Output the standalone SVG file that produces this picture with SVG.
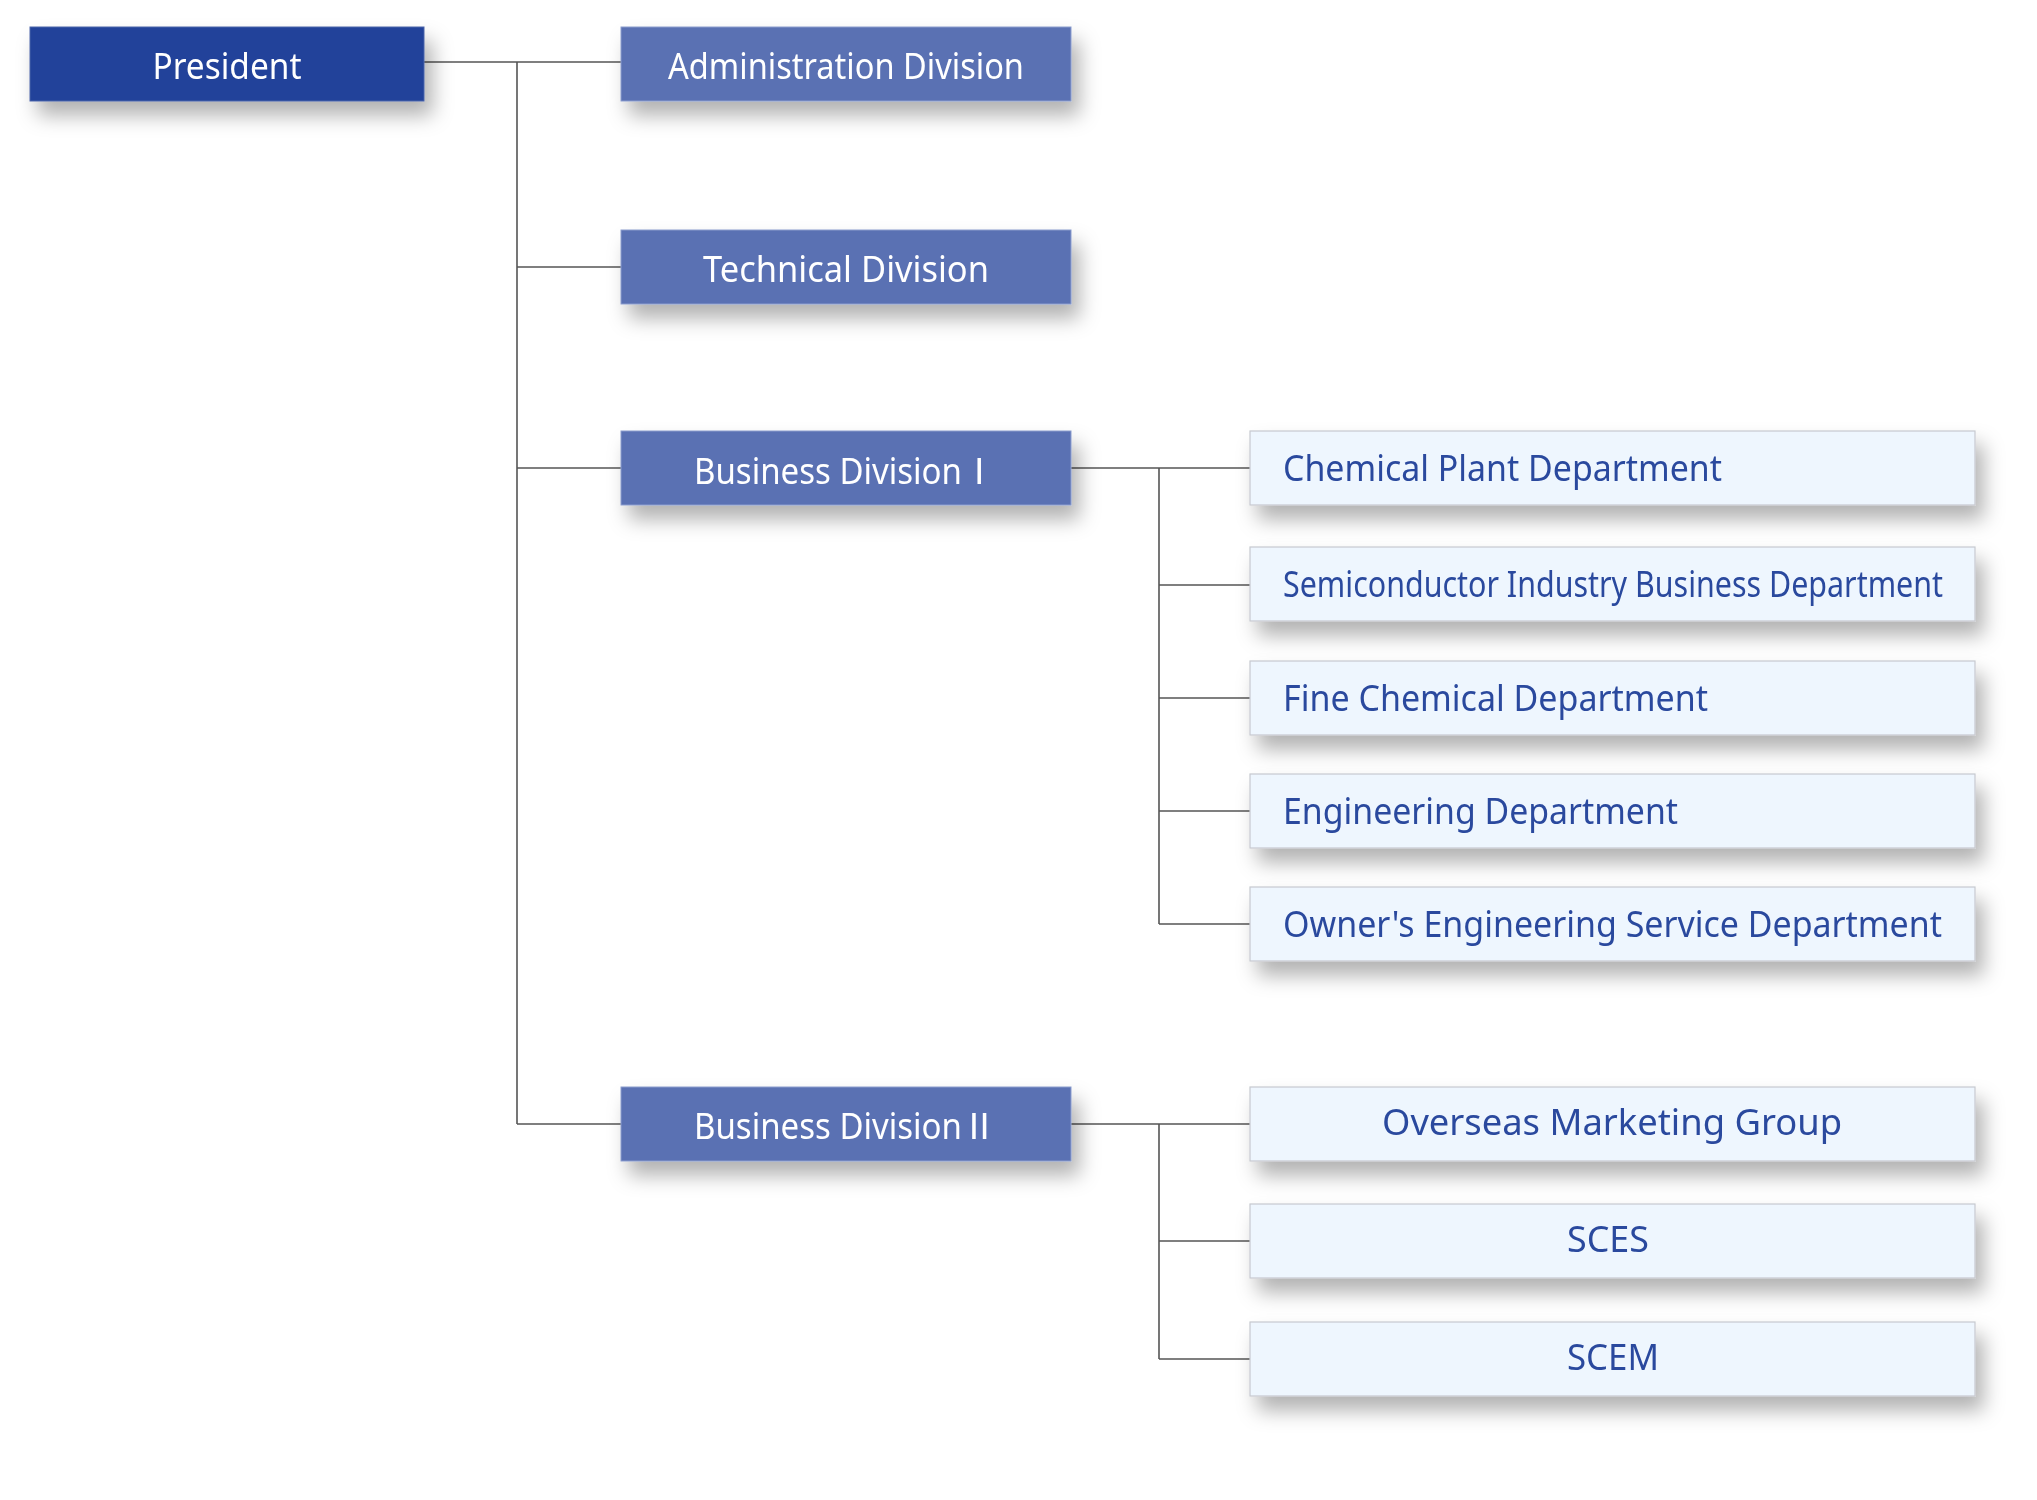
<svg xmlns="http://www.w3.org/2000/svg" width="2037" height="1500" viewBox="0 0 2037 1500">
<defs>
<filter id="sh" x="-10%" y="-30%" width="125%" height="190%">
<feDropShadow dx="8" dy="14" stdDeviation="10" flood-color="#000" flood-opacity="0.3"/>
</filter>
<style>
.pres{fill:#23429A;stroke:#4a63a8;stroke-width:1}
.div{fill:#5A71B3;stroke:#8a9ccc;stroke-width:1}
.dep{fill:#EEF6FE;stroke:#c6c9cf;stroke-width:1.2}
.tw{font-family:"Noto Sans","Noto Sans CJK JP",sans-serif;font-size:36px;fill:#ffffff}
.tb{font-family:"Noto Sans","Noto Sans CJK JP",sans-serif;font-size:36px;fill:#2B4A9E}
.c{text-anchor:middle}
.ln{stroke:#555;stroke-width:1.6;fill:none}
</style>
</defs>
<rect width="2037" height="1500" fill="#fff"/>
<g id="connectors">
<path class="ln" d="M424 62H621M517 62V1124M517 267H621M517 468H621M517 1124H621"/>
<path class="ln" d="M1071 468H1250M1159 468V924M1159 585H1250M1159 698H1250M1159 811H1250M1159 924H1250"/>
<path class="ln" d="M1071 1124H1250M1159 1124V1359M1159 1241H1250M1159 1359H1250"/>
</g>
<g id="president" filter="url(#sh)"><rect class="pres" x="30" y="27" width="394" height="74"/><text class="tw c" x="227" y="79" textLength="149" lengthAdjust="spacingAndGlyphs">President</text></g>
<g id="admin" filter="url(#sh)"><rect class="div" x="621" y="27" width="450" height="74"/><text class="tw c" x="846" y="79" textLength="356" lengthAdjust="spacingAndGlyphs">Administration Division</text></g>
<g id="technical" filter="url(#sh)"><rect class="div" x="621" y="230" width="450" height="74"/><text class="tw c" x="846" y="282" textLength="286" lengthAdjust="spacingAndGlyphs">Technical Division</text></g>
<g id="business1" filter="url(#sh)"><rect class="div" x="621" y="431" width="450" height="74"/><text class="tw" x="694" y="484"><tspan textLength="268" lengthAdjust="spacingAndGlyphs">Business Division</tspan><tspan dx="-10"> Ⅰ</tspan></text></g>
<g id="business2" filter="url(#sh)"><rect class="div" x="621" y="1087" width="450" height="74"/><text class="tw" x="694" y="1139"><tspan textLength="268" lengthAdjust="spacingAndGlyphs">Business Division</tspan><tspan dx="-10"> Ⅱ</tspan></text></g>
<g id="chemical" filter="url(#sh)"><rect class="dep" x="1250" y="431" width="725" height="74"/><text class="tb" x="1283" y="481" textLength="439" lengthAdjust="spacingAndGlyphs">Chemical Plant Department</text></g>
<g id="semicon" filter="url(#sh)"><rect class="dep" x="1250" y="547" width="725" height="74"/><text class="tb" x="1283" y="597" textLength="660" lengthAdjust="spacingAndGlyphs">Semiconductor Industry Business Department</text></g>
<g id="fine" filter="url(#sh)"><rect class="dep" x="1250" y="661" width="725" height="74"/><text class="tb" x="1283" y="711" textLength="425" lengthAdjust="spacingAndGlyphs">Fine Chemical Department</text></g>
<g id="engineering" filter="url(#sh)"><rect class="dep" x="1250" y="774" width="725" height="74"/><text class="tb" x="1283" y="824" textLength="395" lengthAdjust="spacingAndGlyphs">Engineering Department</text></g>
<g id="owners" filter="url(#sh)"><rect class="dep" x="1250" y="887" width="725" height="74"/><text class="tb" x="1283" y="937" textLength="659" lengthAdjust="spacingAndGlyphs">Owner's Engineering Service Department</text></g>
<g id="overseas" filter="url(#sh)"><rect class="dep" x="1250" y="1087" width="725" height="74"/><text class="tb c" x="1612" y="1135" textLength="460" lengthAdjust="spacingAndGlyphs">Overseas Marketing Group</text></g>
<g id="sces" filter="url(#sh)"><rect class="dep" x="1250" y="1204" width="725" height="74"/><text class="tb c" x="1608" y="1252" textLength="82" lengthAdjust="spacingAndGlyphs">SCES</text></g>
<g id="scem" filter="url(#sh)"><rect class="dep" x="1250" y="1322" width="725" height="74"/><text class="tb c" x="1613" y="1370" textLength="92" lengthAdjust="spacingAndGlyphs">SCEM</text></g>
</svg>
